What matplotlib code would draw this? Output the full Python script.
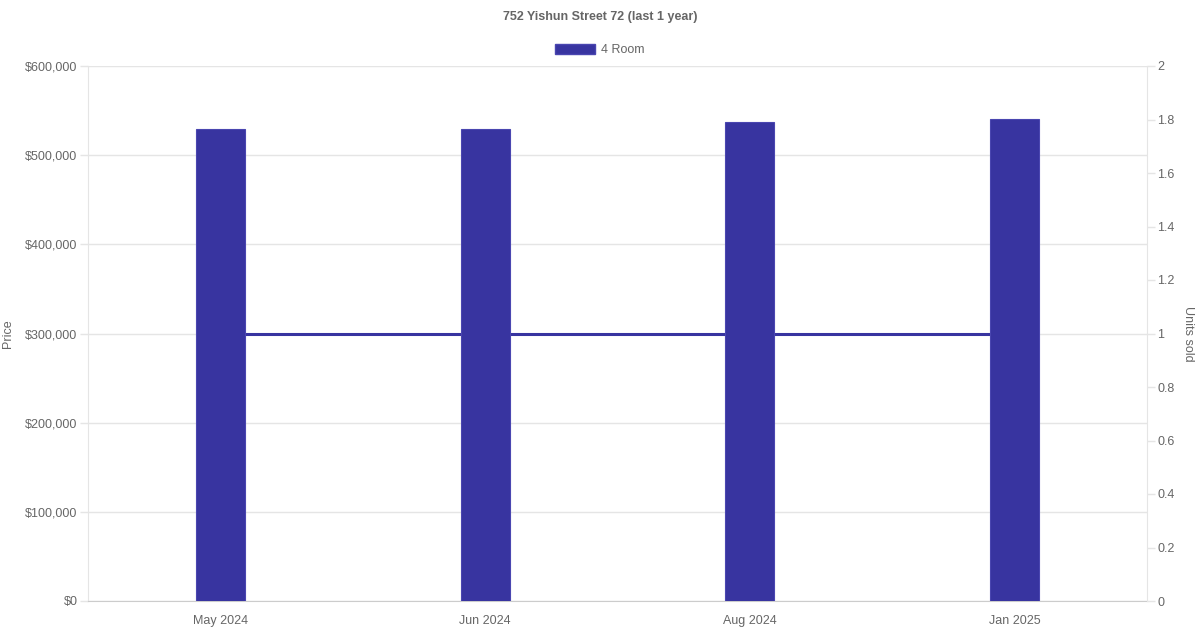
import matplotlib
matplotlib.use('Agg')
import matplotlib.pyplot as plt
from matplotlib.patches import Patch
from matplotlib.ticker import FuncFormatter

months = ['May 2024', 'Jun 2024', 'Aug 2024', 'Jan 2025']
prices = [529300, 529000, 537200, 540500]
units_sold = [1, 1, 1, 1]

bar_color = '#3834a0'
text_color = '#666666'
grid_color = '#e5e5e5'

plt.rcParams['font.family'] = ['Liberation Sans', 'DejaVu Sans']

fig = plt.figure(figsize=(12, 6.3), dpi=100)
ax = fig.add_axes([88 / 1200, 29 / 630, 1059 / 1200, 535 / 630])
ax2 = ax.twinx()

x = list(range(len(months)))

ax2.set_ylim(0, 2)
ax2.set_yticks([0, 0.2, 0.4, 0.6, 0.8, 1, 1.2, 1.4, 1.6, 1.8, 2])
ax2.yaxis.set_major_formatter(FuncFormatter(lambda v, p: f'{v:g}'))

# units line uses the right scale but sits in the main axes: above grid, behind bars
ax.plot(x, units_sold, color=bar_color, linewidth=2.2, solid_capstyle='butt',
        transform=ax2.transData, zorder=2)
ax.bar(x, prices, width=0.186, color=bar_color, edgecolor='#4a46b0', linewidth=0.8, zorder=3)

ax.set_xlim(-0.5, len(months) - 0.5)
ax.set_ylim(0, 600000)
ax.set_yticks(range(0, 600001, 100000))
ax.yaxis.set_major_formatter(FuncFormatter(lambda v, p: f'${int(v):,}'))
ax.set_xticks(x)
ax.set_xticklabels(months)
ax.grid(axis='y', color=grid_color, linewidth=1, zorder=0)
ax.grid(axis='x', visible=False)
ax.set_axisbelow(True)

for a in (ax, ax2):
    for s in a.spines.values():
        s.set_visible(False)
    a.tick_params(colors=text_color, labelsize=9, length=6, width=1, pad=1.5)
    a.tick_params(axis='both', color=grid_color)
ax.tick_params(axis='x', length=0, pad=10)
ax.spines['left'].set_visible(True)
ax.spines['left'].set_color(grid_color)
ax.spines['bottom'].set_visible(True)
ax.spines['bottom'].set_color('#cccccc')
ax2.spines['right'].set_visible(True)
ax2.spines['right'].set_color(grid_color)

for lbl in ax.get_xticklabels() + ax.get_yticklabels() + ax2.get_yticklabels():
    lbl.set_color(text_color)

ax.set_ylabel('Price', color=text_color, fontsize=9, labelpad=8)
ax2.set_ylabel('Units sold', color=text_color, fontsize=9, rotation=270, labelpad=14)

fig.text(0.5, 1 - 17 / 630, '752 Yishun Street 72 (last 1 year)', ha='center', va='center',
         fontsize=9, fontweight='bold', color=text_color)

fig.legend(handles=[Patch(facecolor=bar_color, edgecolor='#4a46b0', label='4 Room')],
           loc='center', bbox_to_anchor=(0.5, 1 - 50 / 630), frameon=False,
           fontsize=9, labelcolor=text_color, handlelength=3.2, handleheight=0.9,
           handletextpad=0.5)

fig.savefig('out.png', dpi=100)
